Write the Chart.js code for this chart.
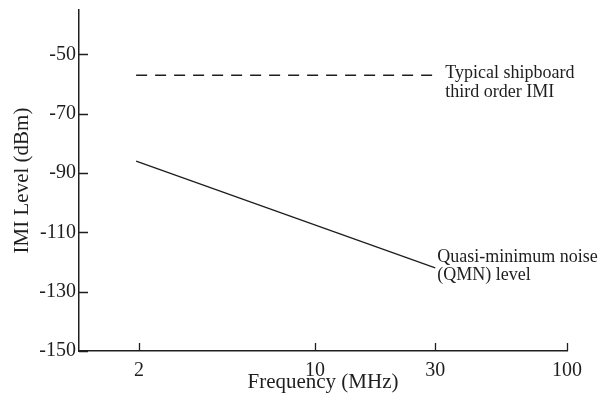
<!DOCTYPE html>
<html>
<head>
<meta charset="utf-8">
<script src="https://cdn.jsdelivr.net/npm/chart.js@4"></script>
<style>
  html, body { margin: 0; padding: 0; background: #fff; }
  #wrap { width: 605px; height: 403px; }
</style>
</head>
<body>
<div id="wrap"><canvas id="chart"></canvas></div>
<script>
// values
const xTicks = [2, 10, 30, 100];
const yTicks = [-150, -130, -110, -90, -70, -50];
const shipFreq = [1.95, 30];
const shipLevel = [-57, -57];
const qmnFreq = [1.95, 30];
const qmnLevel = [-86, -122];
const shipLabel = ['Typical shipboard', 'third order IMI'];
const qmnLabel = ['Quasi-minimum noise', '(QMN) level'];

const ink = '#1e1e1e';
const serif = "'Liberation Serif', 'DejaVu Serif', serif";

// inward tick marks + the two line labels
const extras = {
  id: 'extras',
  afterDraw(chart) {
    const ctx = chart.ctx;
    const xs = chart.scales.x, ys = chart.scales.y;
    ctx.save();
    ctx.strokeStyle = ink;
    ctx.lineWidth = 1.3;
    ctx.beginPath();
    yTicks.forEach(v => {
      const py = Math.round(ys.getPixelForValue(v)) + 0.5;
      ctx.moveTo(xs.left, py);
      ctx.lineTo(xs.left + 9, py);
    });
    xTicks.forEach(v => {
      const px = Math.round(xs.getPixelForValue(v)) + 0.5;
      ctx.moveTo(px, ys.bottom);
      ctx.lineTo(px, ys.bottom - 8);
    });
    ctx.stroke();

    ctx.fillStyle = ink;
    ctx.font = '18px ' + serif;
    ctx.textAlign = 'left';
    ctx.textBaseline = 'alphabetic';
    let px = xs.getPixelForValue(shipFreq[1]) + 10;
    let py = ys.getPixelForValue(shipLevel[1]);
    ctx.fillText(shipLabel[0], px, py + 3);
    ctx.fillText(shipLabel[1], px, py + 22);
    px = xs.getPixelForValue(qmnFreq[1]) + 2;
    py = ys.getPixelForValue(qmnLevel[1]);
    ctx.fillText(qmnLabel[0], px, py - 6);
    ctx.fillText(qmnLabel[1], px, py + 12);
    ctx.restore();
  }
};

new Chart(document.getElementById('chart'), {
  type: 'line',
  data: {
    datasets: [{
      label: 'shipboard IMI',
      data: shipFreq.map((f, i) => ({x: f, y: shipLevel[i]})),
      borderColor: ink,
      borderWidth: 1.3,
      borderDash: [11, 8],
      pointRadius: 0,
      fill: false
    }, {
      label: 'QMN level',
      data: qmnFreq.map((f, i) => ({x: f, y: qmnLevel[i]})),
      borderColor: ink,
      borderWidth: 1.3,
      pointRadius: 0,
      fill: false
    }]
  },
  options: {
    responsive: true,
    maintainAspectRatio: false,
    animation: false,
    layout: { padding: { top: 10, right: 38, left: 0, bottom: 0 } },
    plugins: { legend: { display: false }, tooltip: { enabled: false } },
    scales: {
      x: {
        type: 'logarithmic',
        min: 1.157,
        max: 100,
        afterBuildTicks: s => { s.ticks = xTicks.map(v => ({value: v})); },
        afterFit: s => { s.height = 52; },
        grid: { display: false, drawTicks: false },
        border: { display: true, color: ink, width: 1.5 },
        ticks: {
          color: ink, font: { family: serif, size: 20 }, padding: 8,
          maxRotation: 0, autoSkip: false,
          callback: v => String(v)
        },
        title: {
          display: true, text: 'Frequency (MHz)', color: ink,
          font: { family: serif, size: 21 }, padding: { top: 0, bottom: 8 }
        }
      },
      y: {
        type: 'linear',
        min: -150,
        max: -35,
        afterBuildTicks: s => { s.ticks = yTicks.map(v => ({value: v})); },
        afterFit: s => { s.width = 79; s.paddingTop = 0; s.paddingBottom = 0; },
        grid: { display: false, drawTicks: false },
        border: { display: true, color: ink, width: 1.5 },
        ticks: {
          color: ink, font: { family: serif, size: 20 }, padding: 3,
          callback: v => String(v)
        },
        title: {
          display: true, text: 'IMI Level (dBm)', color: ink,
          font: { family: serif, size: 21 }, padding: { top: 10, bottom: 0 }
        }
      }
    }
  },
  plugins: [extras]
});
</script>
</body>
</html>
